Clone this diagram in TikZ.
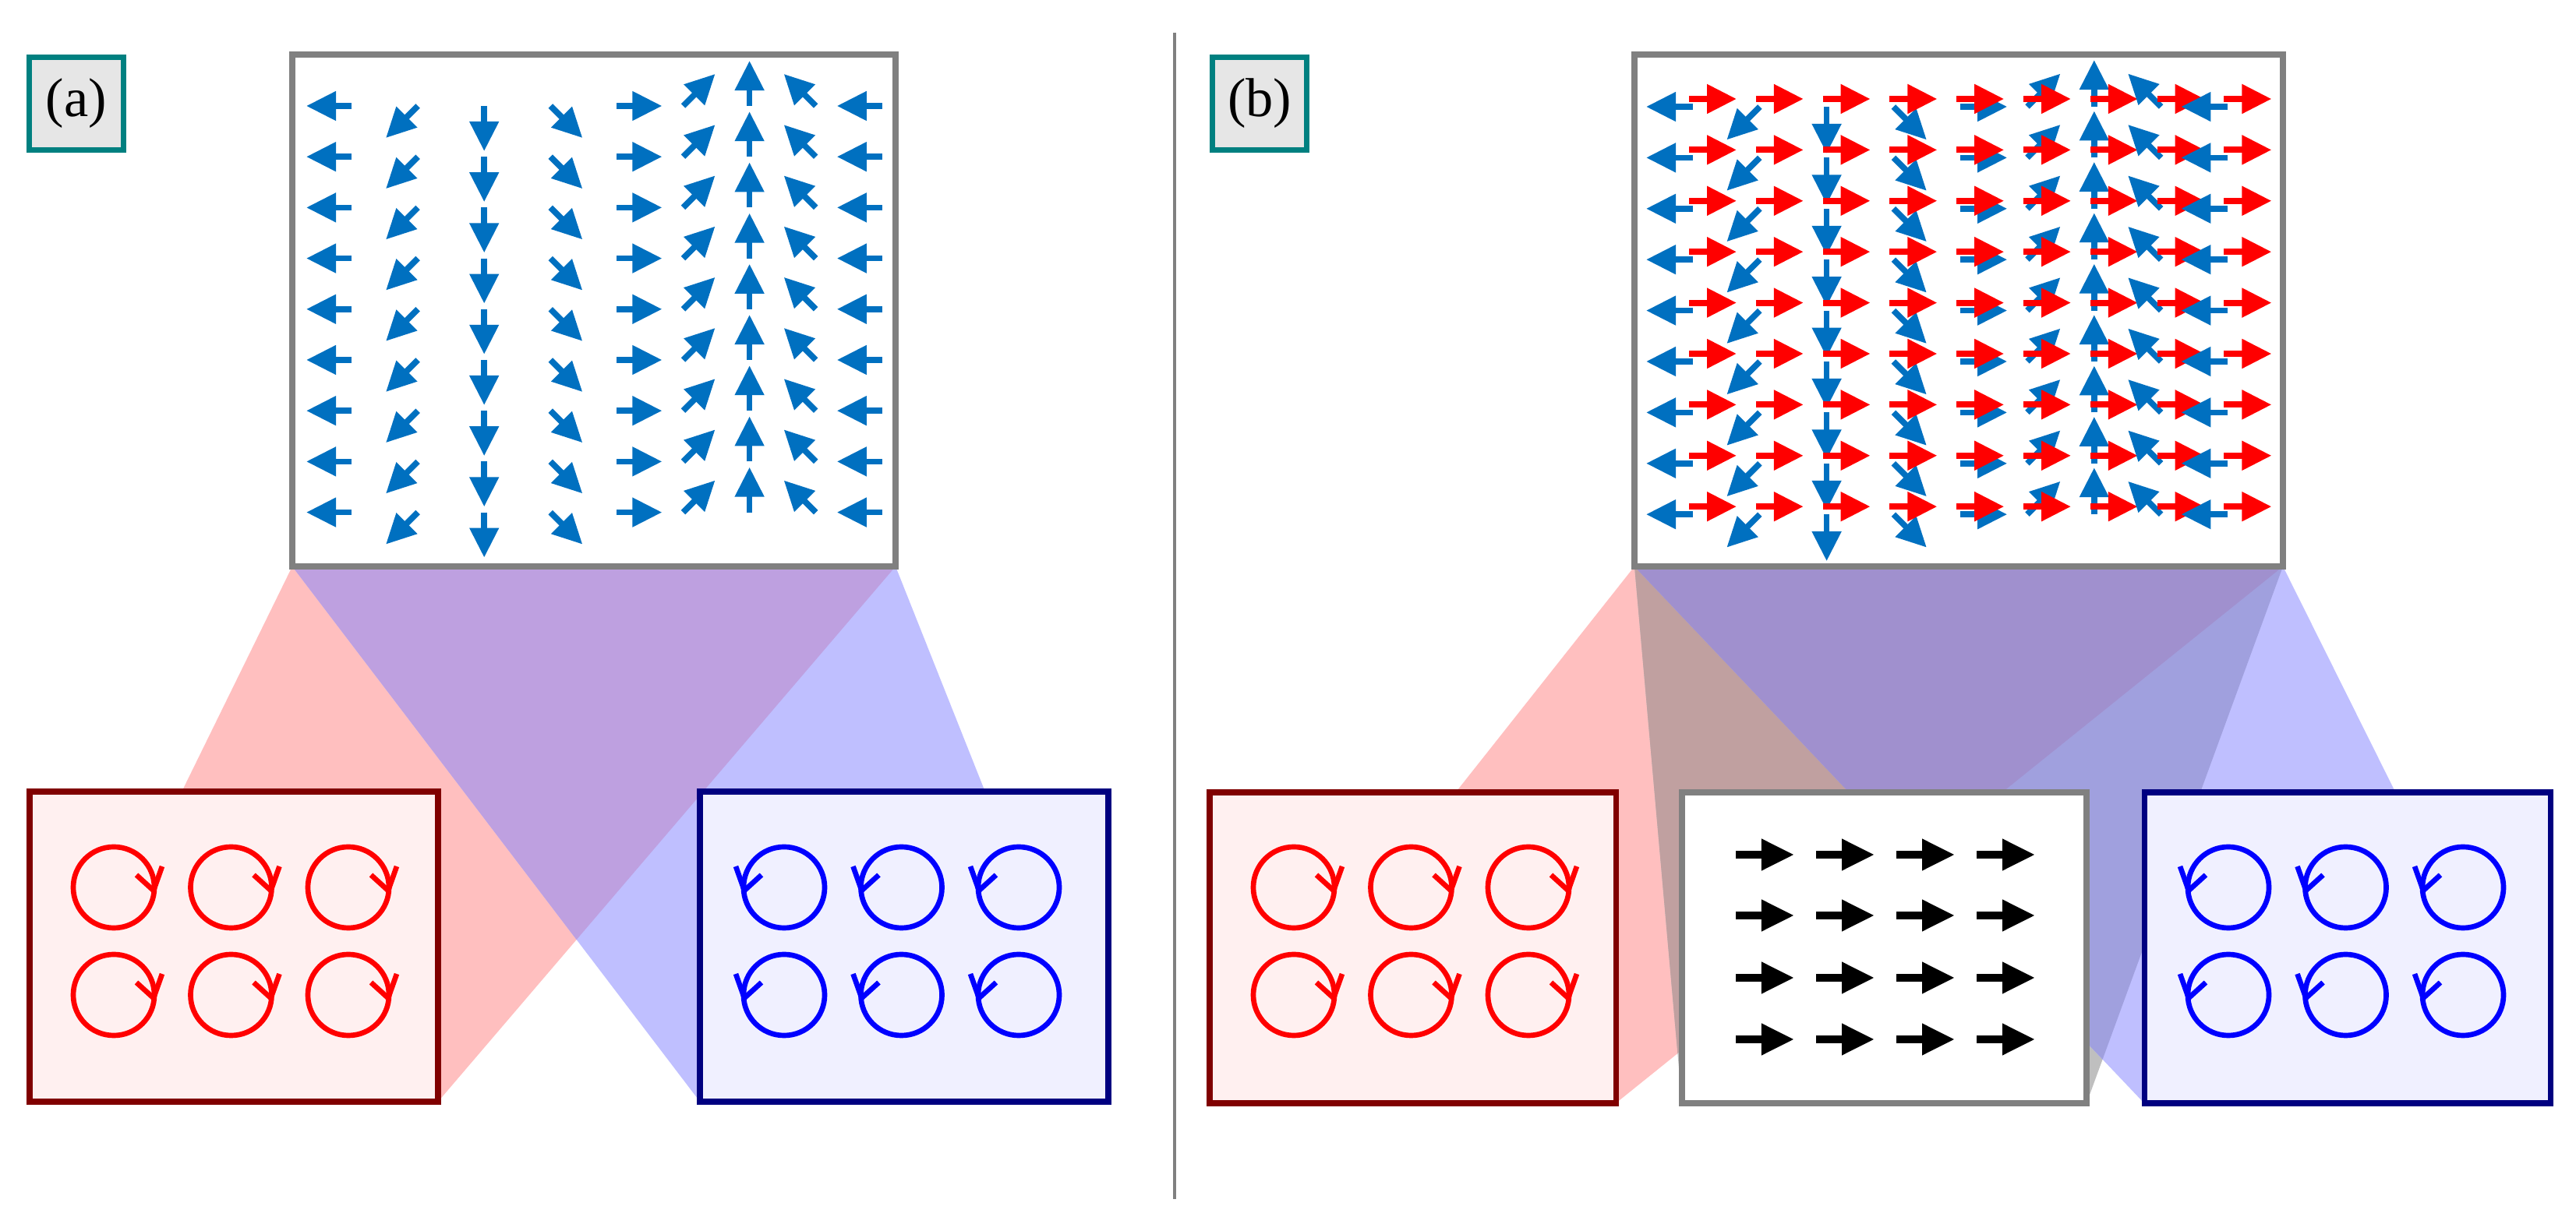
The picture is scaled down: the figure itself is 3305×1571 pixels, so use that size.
\documentclass[tikz,border=0pt]{standalone}
\usepackage{fontspec}
\setmainfont{Liberation Serif}
\usetikzlibrary{arrows.meta}
\definecolor{qblue}{RGB}{0,112,192}
\definecolor{dred}{RGB}{128,0,0}
\definecolor{dblue}{RGB}{0,0,128}
\definecolor{fred}{RGB}{255,240,240}
\definecolor{fblue}{RGB}{240,240,255}
\definecolor{teal2}{RGB}{0,128,128}
\definecolor{lgray}{RGB}{230,230,230}
\definecolor{cR}{RGB}{255,191,191}
\definecolor{cB}{RGB}{191,191,255}
\definecolor{cG}{RGB}{191,191,191}
\definecolor{cRB}{RGB}{190,160,224}
\definecolor{cRG}{RGB}{192,160,160}
\definecolor{cGB}{RGB}{160,160,222}
\definecolor{cRGB}{RGB}{160,144,206}
\tikzset{
  qa/.style={qblue,line width=2.2pt,-{Triangle[length=3.8mm,width=3.6mm]}},
  qr/.style={red,line width=2.3pt,-{Triangle[length=3.8mm,width=3.6mm]}},
  qk/.style={black,line width=2.9pt,-{Triangle[length=4.2mm,width=3.8mm]}},
  frame/.style={gray,line width=2.3pt,fill=white},
  rbox/.style={dred,line width=2pt,fill=fred},
  bbox/.style={dblue,line width=2pt,fill=fblue},
  circ/.style={line width=1.9pt},
  lab/.style={draw=teal2,line width=2pt,fill=lgray,minimum width=1.2cm,minimum height=1.19cm,inner sep=0pt,font=\fontsize{20}{22}\selectfont}
}
\def\RA{(375,727) -- (1149,727) -- (562,1414) -- (38,1414) -- cycle}
\def\BA{(375,727) -- (1149,727) -- (1422,1414) -- (898,1414) -- cycle}
\def\RBb{(2097,727) -- (2929,727) -- (2073,1416) -- (1552,1416) -- cycle}
\def\GBb{(2097,727) -- (2929,727) -- (2677,1416) -- (2158,1416) -- cycle}
\def\BBb{(2097,727) -- (2929,727) -- (3272,1416) -- (2751,1416) -- cycle}
\begin{document}
\begin{tikzpicture}[x=0.01cm,y=-0.01cm]
\useasboundingbox (0,0) rectangle (3305,1571);
% ---------- (a) fans
\fill[cR] \RA; \fill[cB] \BA;
\begin{scope}\clip \RA; \fill[cRB] \BA; \end{scope}
% ---------- (b) fans
\fill[cR] \RBb; \fill[cG] \GBb; \fill[cB] \BBb;
\begin{scope}\clip \RBb; \fill[cRG] \GBb; \fill[cRB] \BBb; \end{scope}
\begin{scope}\clip \GBb; \fill[cGB] \BBb; \end{scope}
\begin{scope}\clip \RBb; \clip \GBb; \fill[cRGB] \BBb; \end{scope}
% divider
\draw[gray,line width=1.4pt] (1507,42) -- (1507,1539);
% ---------- boxes
\draw[frame] (375,70) rectangle (1149,727);
\draw[frame] (2097,70) rectangle (2929,727);
\draw[rbox] (38,1016) rectangle (562,1414);
\draw[bbox] (898,1016) rectangle (1422,1414);
\draw[rbox] (1552,1017) rectangle (2073,1416);
\draw[frame] (2158,1017) rectangle (2677,1416);
\draw[bbox] (2751,1017) rectangle (3272,1416);
% labels
\node[lab] (la) at (98,133) {(a)};
\node[lab] (lb) at (1616,133) {(b)};
% ---------- (a) quiver
\foreach \i in {0,...,8}{
  \pgfmathsetmacro\ang{180+45*\i}
  \foreach \j in {0,...,8}{
    \pgfmathsetmacro\xx{451+85.1*\i}
    \pgfmathsetmacro\yy{136+65.2*\j}
    \draw[qa] (\xx,\yy) -- ++({58*cos(\ang)},{-58*sin(\ang)});
  }
}
% ---------- (b) quiver
\foreach \i in {0,...,8}{
  \pgfmathsetmacro\ang{180+45*\i}
  \foreach \j in {0,...,8}{
    \pgfmathsetmacro\xx{2167+85.8*\i}
    \pgfmathsetmacro\yy{127+65.4*\j}
    \draw[qa] (\xx+5,\yy+10) -- ++({60*cos(\ang)},{-60*sin(\ang)});
    \draw[qr] (\xx,\yy) -- ++(61,0);
  }
}
% ---------- circles
\foreach \bx/\st in {38/r,1552/r,898/b,2751/b}{
  \foreach \k in {0,1,2}{
    \foreach \cy in {1139,1277}{
      \pgfmathsetmacro\cx{\bx+108+150.5*\k}
      \if r\st
        \draw[circ,red] (\cx,\cy) circle[radius=0.52cm];
        \draw[circ,red,line join=miter] (\cx+29,\cy-16) -- (\cx+51,\cy+4) -- (\cx+62,\cy-27);
      \else
        \draw[circ,blue] (\cx,\cy) circle[radius=0.52cm];
        \draw[circ,blue,line join=miter] (\cx-29,\cy-16) -- (\cx-51,\cy+4) -- (\cx-62,\cy-27);
      \fi
    }
  }
}
% ---------- black arrows
\foreach \i in {0,...,3}{
  \foreach \y in {1097,1175,1255,1334}{
    \draw[qk] ({2227+103*\i},\y) -- ++(75,0);
  }
}
\end{tikzpicture}
\end{document}
